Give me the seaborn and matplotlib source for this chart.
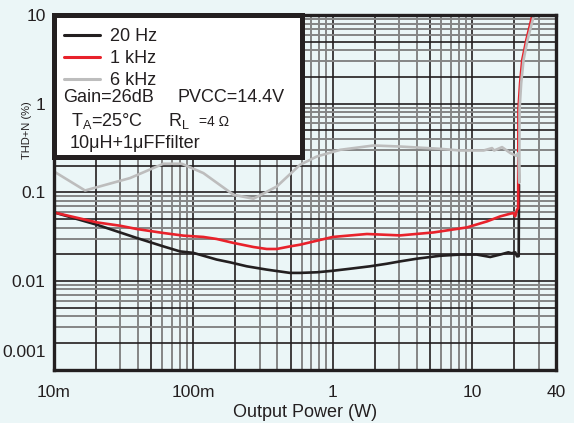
import matplotlib
matplotlib.use("Agg")
import numpy as np
import pandas as pd
import seaborn as sns
import matplotlib.pyplot as plt
import matplotlib.transforms as mtransforms
from matplotlib.patches import Rectangle
from matplotlib.lines import Line2D

# ---------------- data ----------------
power_20hz = [0.01, 0.0203, 0.0392, 0.0609, 0.0802, 0.1, 0.147, 0.183, 0.242, 0.336,
              0.494, 0.583, 0.769, 1.0, 1.33, 1.85, 2.44, 3.05, 4.02, 5.90, 8.21,
              10.8, 13.5, 15.9, 18.2, 19.2, 20.4, 21.0, 21.6, 21.7]
thd_20hz = [0.0592, 0.0430, 0.0305, 0.0245, 0.0215, 0.0207, 0.0174, 0.0162, 0.0146, 0.0134,
            0.0123, 0.0123, 0.0125, 0.0130, 0.0137, 0.0146, 0.0156, 0.0166, 0.0178, 0.0192, 0.0198,
            0.0198, 0.0186, 0.0198, 0.0210, 0.0205, 0.0210, 0.0189, 0.0190, 0.1216]

power_1khz = [0.01, 0.0203, 0.0298, 0.0392, 0.0609, 0.0848, 0.118, 0.147, 0.194, 0.270,
              0.336, 0.397, 0.494, 0.583, 1.0, 1.76, 3.05, 5.28, 9.18, 12.8, 15.9,
              18.8, 19.8, 20.4, 21.0, 21.4, 21.5, 22.1, 22.9, 24.5, 26.9, 28.0]
thd_1khz = [0.0592, 0.0457, 0.0419, 0.0385, 0.0347, 0.0324, 0.0313, 0.0297, 0.0268, 0.0241,
            0.0229, 0.0229, 0.0245, 0.0256, 0.0313, 0.0338, 0.0326, 0.0352, 0.0401, 0.0469, 0.0534,
            0.0573, 0.0583, 0.0534, 0.0636, 0.0660, 0.851, 1.70, 3.11, 5.23, 9.57, 11.0]

power_6khz = [0.01, 0.0167, 0.0351, 0.0609, 0.0826, 0.118, 0.194, 0.270, 0.397, 0.583,
              0.769, 1.13, 1.96, 3.05, 5.90, 8.21, 12.1, 13.9, 14.4, 16.4, 18.8,
              20.7, 21.5, 21.8, 21.9, 22.5, 23.4, 25.0, 27.6, 28.5]
thd_6khz = [0.1715, 0.1047, 0.1445, 0.2097, 0.2097, 0.1645, 0.0937, 0.0845, 0.1162, 0.2042,
            0.2531, 0.301, 0.3368, 0.328, 0.309, 0.296, 0.296, 0.315, 0.296, 0.323, 0.277,
            0.258, 0.277, 0.128, 0.851, 1.70, 3.11, 5.23, 9.57, 11.0]

series_labels = ["20 Hz", "1 kHz", "6 kHz"]
series_colors = ["#231F20", "#E8222B", "#BDBDBD"]

x_ticks = [0.01, 0.1, 1, 10, 40]
x_ticklabels = ["10m", "100m", "1", "10", "40"]
y_ticks = [0.001, 0.01, 0.1, 1, 10]
y_ticklabels = ["0.001", "0.01", "0.1", "1", "10"]

# ---------------- build table ----------------
frames = []
for lab, p, t in zip(series_labels,
                     [power_20hz, power_1khz, power_6khz],
                     [thd_20hz, thd_1khz, thd_6khz]):
    frames.append(pd.DataFrame({"power": p, "thd": t, "series": lab}))
df = pd.concat(frames, ignore_index=True)

# ---------------- style ----------------
sns.set_theme(style="white")
plt.rcParams["font.family"] = ["Liberation Sans", "DejaVu Sans"]
plt.rcParams["mathtext.fontset"] = "custom"
plt.rcParams["mathtext.rm"] = "Liberation Sans"
plt.rcParams["mathtext.it"] = "Liberation Sans"
plt.rcParams["mathtext.bf"] = "Liberation Sans"

BG = "#EBF6F7"
INK = "#231F20"
GRID_GRAY = "#858585"

fig = plt.figure(figsize=(5.74, 4.23), dpi=100, facecolor=BG)
ax = fig.add_axes([54 / 574, 1 - 369.5 / 423, 502 / 574, 354.5 / 423])
ax.set_facecolor(BG)

sns.lineplot(data=df, x="power", y="thd", hue="series", hue_order=series_labels,
             palette=series_colors, estimator=None, sort=False, linewidth=1.9,
             legend=False, ax=ax, zorder=3)

ax.set_xscale("log")
ax.set_yscale("log")
ax.set_xlim(0.01, 40)
ax.set_ylim(0.001, 10)

# grid: decades and 2/5 lines dark, other minors gray
for dec in [0.01, 0.1, 1, 10]:
    for k in range(1, 10):
        v = dec * k
        if 0.01 < v < 40:
            dark = k in (1, 2, 5)
            ax.axvline(v, color=INK if dark else GRID_GRAY, lw=1.2 if dark else 1.4, zorder=1)
for dec in [0.001, 0.01, 0.1, 1]:
    for k in range(1, 10):
        v = dec * k
        if 0.001 < v < 10:
            dark = k in (1, 2, 5)
            ax.axhline(v, color=INK if dark else GRID_GRAY, lw=1.2 if dark else 1.4, zorder=1)

ax.set_xticks(x_ticks)
ax.set_xticklabels(x_ticklabels)
ax.set_yticks(y_ticks)
ax.set_yticklabels(y_ticklabels)
ax.set_xticks([], minor=True)
ax.set_yticks([], minor=True)
ax.tick_params(axis="both", which="both", length=0, labelsize=12.5, colors=INK)
ax.tick_params(axis="x", pad=11)
ax.tick_params(axis="y", pad=6)

# reference shows the 0.001 label raised above the bottom edge
for tick in ax.yaxis.get_major_ticks():
    if tick.label1.get_text() == "0.001":
        tick.label1.set_transform(tick.label1.get_transform() +
                                  mtransforms.ScaledTranslation(0, 19 / 100, fig.dpi_scale_trans))

for s in ax.spines.values():
    s.set_visible(True)
    s.set_color(INK)
    s.set_linewidth(2.4)
    s.set_zorder(4)

ax.set_xlabel("Output Power (W)", fontsize=13, color=INK)
ax.xaxis.set_label_coords(0.5, -0.097)
ax.xaxis.label.set_va("top")
ax.set_ylabel("THD+N (%)", fontsize=8, color=INK)
ax.yaxis.set_label_coords(-0.044, 0.676)

# annotation box
box = Rectangle((0.0, 0.600), 0.494, 0.400, transform=ax.transAxes,
                facecolor="white", edgecolor=INK, lw=3.6, zorder=5, clip_on=False)
ax.add_patch(box)

handles = [Line2D([], [], color=c, lw=2.2) for c in series_colors]
leg = ax.legend(handles, series_labels, loc="upper left", bbox_to_anchor=(0.020, 0.963),
                frameon=False, fontsize=13, handlelength=2.0, handletextpad=0.55,
                labelspacing=0.27, borderpad=0, borderaxespad=0)
leg.set_zorder(6)
for t in leg.get_texts():
    t.set_color(INK)

tkw = dict(transform=ax.transAxes, fontsize=13, color=INK, va="baseline", ha="left", zorder=7)
ax.text(0.0173, 0.7555, "Gain=26dB", **tkw)
ax.text(0.247, 0.7555, "PVCC=14.4V", **tkw)
ax.text(0.034, 0.687, r"T$_\mathregular{A}$=25°C", **tkw)
ax.text(0.227, 0.687, r"R$_\mathregular{L}$", **tkw)
ax.text(0.289, 0.687, "=4 Ω", **{**tkw, "fontsize": 10})
ax.text(0.032, 0.624, "10μH+1μFFfilter", **tkw)

fig.savefig("out.png", dpi=100, facecolor=BG)
